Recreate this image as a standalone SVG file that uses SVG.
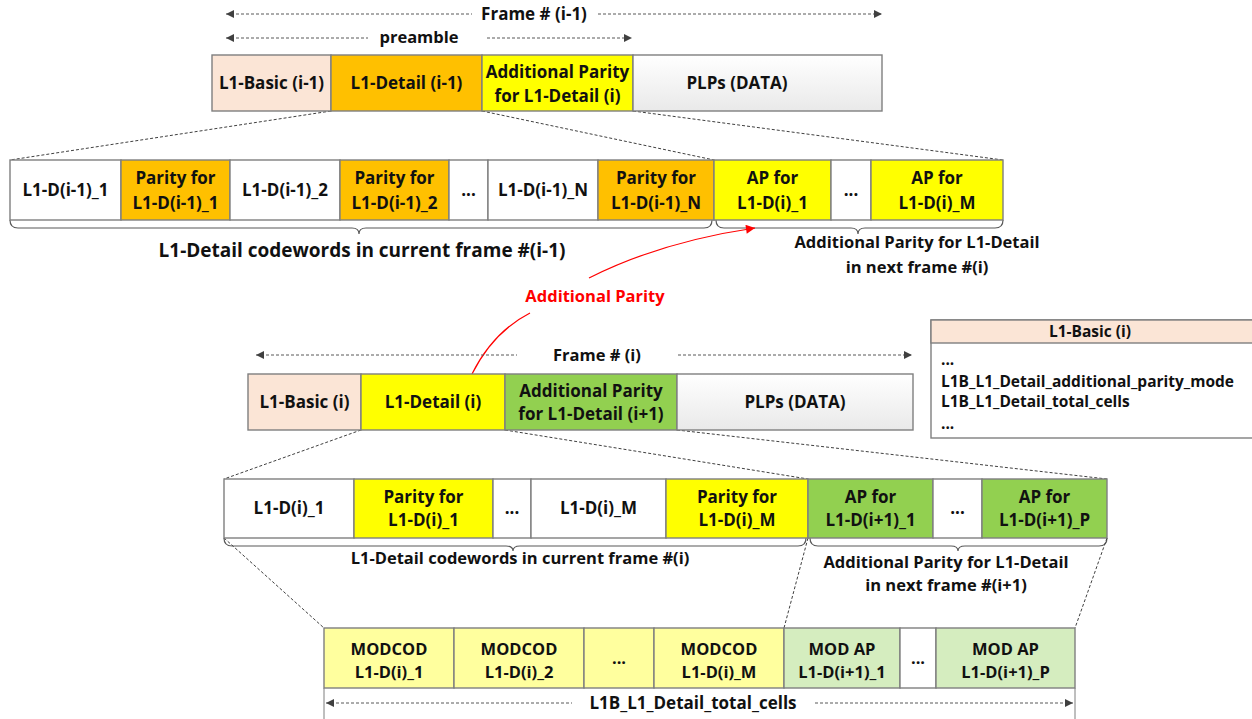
<svg xmlns="http://www.w3.org/2000/svg" width="1252" height="719" viewBox="0 0 1252 719">
<defs>
<marker id="ah" viewBox="0 0 10 10" refX="10" refY="5" markerWidth="8" markerHeight="8" markerUnits="userSpaceOnUse" orient="auto-start-reverse"><path d="M0,0 L10,5 L0,10 Z" fill="#404040"/></marker>
<marker id="ahr" viewBox="0 0 10 10" refX="10" refY="5" markerWidth="10" markerHeight="9" markerUnits="userSpaceOnUse" orient="auto"><path d="M0,0 L10,5 L0,10 Z" fill="#FF0000"/></marker>
<linearGradient id="plp" x1="0" y1="0" x2="0" y2="1"><stop offset="0" stop-color="#FFFFFF"/><stop offset="1" stop-color="#E9E9E9"/></linearGradient>
</defs>
<style>
text{font-family:"Open Sans","Liberation Sans",sans-serif;font-weight:700;font-size:16.5px;fill:#111;text-anchor:middle}
.f17{font-size:17px}
.f19{font-size:19px}
.f155{font-size:15.5px}
.c{stroke:#7F7F7F;stroke-width:1.4}
.w{fill:#FFFFFF}
.pe{fill:#FBE5D6}
.or{fill:#FFC000}
.ye{fill:#FFFF00}
.gr{fill:#92D050}
.ly{fill:#FFFF9E}
.lg{fill:#D5EDBF}
.pl{fill:url(#plp)}
.dz{stroke:#404040;stroke-width:1;stroke-dasharray:3 2;fill:none}
.da{stroke:#595959;stroke-width:1;stroke-dasharray:3 2;fill:none}
.br{stroke:#595959;stroke-width:1.2;fill:none}
.red{fill:#FF0000}
.lt{text-anchor:start}
</style>

<g id="connectors">
<line class="da" x1="226" y1="14" x2="472" y2="14" marker-start="url(#ah)"/>
<line class="da" x1="598" y1="14" x2="882" y2="14" marker-end="url(#ah)"/>
<line class="da" x1="226" y1="38" x2="368" y2="38" marker-start="url(#ah)"/>
<line class="da" x1="487" y1="38" x2="632" y2="38" marker-end="url(#ah)"/>
<line class="dz" x1="331" y1="111" x2="10" y2="160"/>
<line class="dz" x1="482" y1="111" x2="714" y2="160"/>
<line class="dz" x1="633" y1="111" x2="1003" y2="160"/>
<path class="br" d="M10,220 q0,8 8,8 H352 q7,0 7,6 q0,-6 7,-6 H704 q8,0 8,-8"/>
<path class="br" d="M716,220 q0,8 8,8 H851 q7,0 7,6 q0,-6 7,-6 H995 q8,0 8,-8"/>
<path d="M472,374 Q493,332 530,313" stroke="#FF0000" stroke-width="1.2" fill="none"/>
<path d="M589,278 Q660,242 755,228" stroke="#FF0000" stroke-width="1.2" fill="none" marker-end="url(#ahr)"/>
<line class="da" x1="256" y1="355" x2="517" y2="355" marker-start="url(#ah)"/>
<line class="da" x1="678" y1="355" x2="912" y2="355" marker-end="url(#ah)"/>
<line class="dz" x1="361" y1="430" x2="224" y2="479"/>
<line class="dz" x1="505" y1="430" x2="808" y2="479"/>
<line class="dz" x1="677" y1="430" x2="1107" y2="479"/>
<path class="br" d="M224,538 q0,8 8,8 H506 q7,0 7,5 q0,-5 7,-5 H798 q8,0 8,-8"/>
<path class="br" d="M810,538 q0,8 8,8 H951 q7,0 7,5 q0,-5 7,-5 H1099 q8,0 8,-8"/>
<line class="dz" x1="224" y1="538" x2="324" y2="628"/>
<line class="dz" x1="808" y1="538" x2="784" y2="628"/>
<line class="dz" x1="1107" y1="538" x2="1075" y2="628"/>
<line stroke="#7F7F7F" stroke-width="1" x1="324" y1="688" x2="324" y2="719"/>
<line stroke="#7F7F7F" stroke-width="1" x1="1075" y1="688" x2="1075" y2="719"/>
<line class="da" x1="326" y1="703" x2="572" y2="703" marker-start="url(#ah)"/>
<line class="da" x1="815" y1="703" x2="1073" y2="703" marker-end="url(#ah)"/>
</g>

<g id="labels">
<text x="534" y="20" class="f17">Frame # (i-1)</text>
<text x="419" y="43">preamble</text>
<text x="362" y="257" class="f19">L1-Detail codewords in current frame #(i-1)</text>
<text x="917" y="248">Additional Parity for L1-Detail</text>
<text x="917" y="273">in next frame #(i)</text>
<text x="595" y="302" class="red">Additional Parity</text>
<text x="597" y="361">Frame # (i)</text>
<text x="520" y="564">L1-Detail codewords in current frame #(i)</text>
<text x="946" y="568">Additional Parity for L1-Detail</text>
<text x="946" y="591">in next frame #(i+1)</text>
<text x="693" y="709" class="f17">L1B_L1_Detail_total_cells</text>
</g>

<g id="frame-i-1">
<rect class="c pe" x="212" y="55" width="119" height="56"/><text x="271.5" y="89" class="f17">L1-Basic (i-1)</text>
<rect class="c or" x="331" y="55" width="151" height="56"/><text x="406.5" y="89" class="f17">L1-Detail (i-1)</text>
<rect class="c ye" x="482" y="55" width="151" height="56"/><text x="557.5" y="78" class="f17">Additional Parity</text><text x="557.5" y="102" class="f17">for L1-Detail (i)</text>
<rect class="c pl" x="633" y="55" width="249" height="56"/><text x="737" y="89" class="f17">PLPs (DATA)</text>
</g>

<g id="codewords-i-1" class="f17">
<rect class="c w" x="10" y="160" width="111" height="60"/><text x="65.5" y="196" class="f17">L1-D(i-1)_1</text>
<rect class="c or" x="121" y="160" width="109" height="60"/><text x="175.5" y="184" class="f17">Parity for</text><text x="175.5" y="209" class="f17">L1-D(i-1)_1</text>
<rect class="c w" x="230" y="160" width="110" height="60"/><text x="285" y="196" class="f17">L1-D(i-1)_2</text>
<rect class="c or" x="340" y="160" width="109" height="60"/><text x="394.5" y="184" class="f17">Parity for</text><text x="394.5" y="209" class="f17">L1-D(i-1)_2</text>
<rect class="c w" x="449" y="160" width="39" height="60"/><text x="468.5" y="196" class="f17">...</text>
<rect class="c w" x="488" y="160" width="110" height="60"/><text x="543" y="196" class="f17">L1-D(i-1)_N</text>
<rect class="c or" x="598" y="160" width="116" height="60"/><text x="656" y="184" class="f17">Parity for</text><text x="656" y="209" class="f17">L1-D(i-1)_N</text>
<rect class="c ye" x="714" y="160" width="117" height="60"/><text x="772.5" y="184" class="f17">AP for</text><text x="772.5" y="209" class="f17">L1-D(i)_1</text>
<rect class="c w" x="831" y="160" width="40" height="60"/><text x="851" y="196" class="f17">...</text>
<rect class="c ye" x="871" y="160" width="132" height="60"/><text x="937" y="184" class="f17">AP for</text><text x="937" y="209" class="f17">L1-D(i)_M</text>
</g>

<g id="frame-i">
<rect class="c pe" x="248" y="374" width="113" height="56"/><text x="304.5" y="408" class="f17">L1-Basic (i)</text>
<rect class="c ye" x="361" y="374" width="144" height="56"/><text x="433" y="408" class="f17">L1-Detail (i)</text>
<rect class="c gr" x="505" y="374" width="172" height="56"/><text x="591" y="397" class="f17">Additional Parity</text><text x="591" y="420" class="f17">for L1-Detail (i+1)</text>
<rect class="c pl" x="677" y="374" width="236" height="56"/><text x="795" y="408" class="f17">PLPs (DATA)</text>
</g>

<g id="l1-basic-box">
<rect x="931" y="320" width="330" height="118" fill="#FFFFFF" stroke="#7F7F7F" stroke-width="1.4"/>
<rect x="931" y="320" width="330" height="23" fill="#FBE5D6" stroke="#7F7F7F" stroke-width="1.4"/>
<text x="1090" y="337" class="f155">L1-Basic (i)</text>
<text x="941" y="365" class="lt f155">...</text>
<text x="941" y="387" class="lt f155">L1B_L1_Detail_additional_parity_mode</text>
<text x="941" y="407" class="lt f155">L1B_L1_Detail_total_cells</text>
<text x="941" y="429" class="lt f155">...</text>
</g>

<g id="codewords-i">
<rect class="c w" x="224" y="479" width="130" height="59"/><text x="289" y="514" class="f17">L1-D(i)_1</text>
<rect class="c ye" x="354" y="479" width="139" height="59"/><text x="423.5" y="503" class="f17">Parity for</text><text x="423.5" y="526" class="f17">L1-D(i)_1</text>
<rect class="c w" x="493" y="479" width="38" height="59"/><text x="512" y="514" class="f17">...</text>
<rect class="c w" x="531" y="479" width="135" height="59"/><text x="598.5" y="514" class="f17">L1-D(i)_M</text>
<rect class="c ye" x="666" y="479" width="142" height="59"/><text x="737" y="503" class="f17">Parity for</text><text x="737" y="526" class="f17">L1-D(i)_M</text>
<rect class="c gr" x="808" y="479" width="125" height="59"/><text x="870.5" y="503" class="f17">AP for</text><text x="870.5" y="526" class="f17">L1-D(i+1)_1</text>
<rect class="c w" x="933" y="479" width="49" height="59"/><text x="957.5" y="514" class="f17">...</text>
<rect class="c gr" x="982" y="479" width="125" height="59"/><text x="1044.5" y="503" class="f17">AP for</text><text x="1044.5" y="526" class="f17">L1-D(i+1)_P</text>
</g>

<g id="cells-row">
<rect class="c ly" x="324" y="628" width="130" height="60"/><text x="389" y="655">MODCOD</text><text x="389" y="678">L1-D(i)_1</text>
<rect class="c ly" x="454" y="628" width="130" height="60"/><text x="519" y="655">MODCOD</text><text x="519" y="678">L1-D(i)_2</text>
<rect class="c ly" x="584" y="628" width="70" height="60"/><text x="619" y="664">...</text>
<rect class="c ly" x="654" y="628" width="130" height="60"/><text x="719" y="655">MODCOD</text><text x="719" y="678">L1-D(i)_M</text>
<rect class="c lg" x="784" y="628" width="116" height="60"/><text x="842" y="655">MOD AP</text><text x="842" y="678">L1-D(i+1)_1</text>
<rect class="c w" x="900" y="628" width="36" height="60"/><text x="918" y="664">...</text>
<rect class="c lg" x="936" y="628" width="139" height="60"/><text x="1005.5" y="655">MOD AP</text><text x="1005.5" y="678">L1-D(i+1)_P</text>
</g>
</svg>
